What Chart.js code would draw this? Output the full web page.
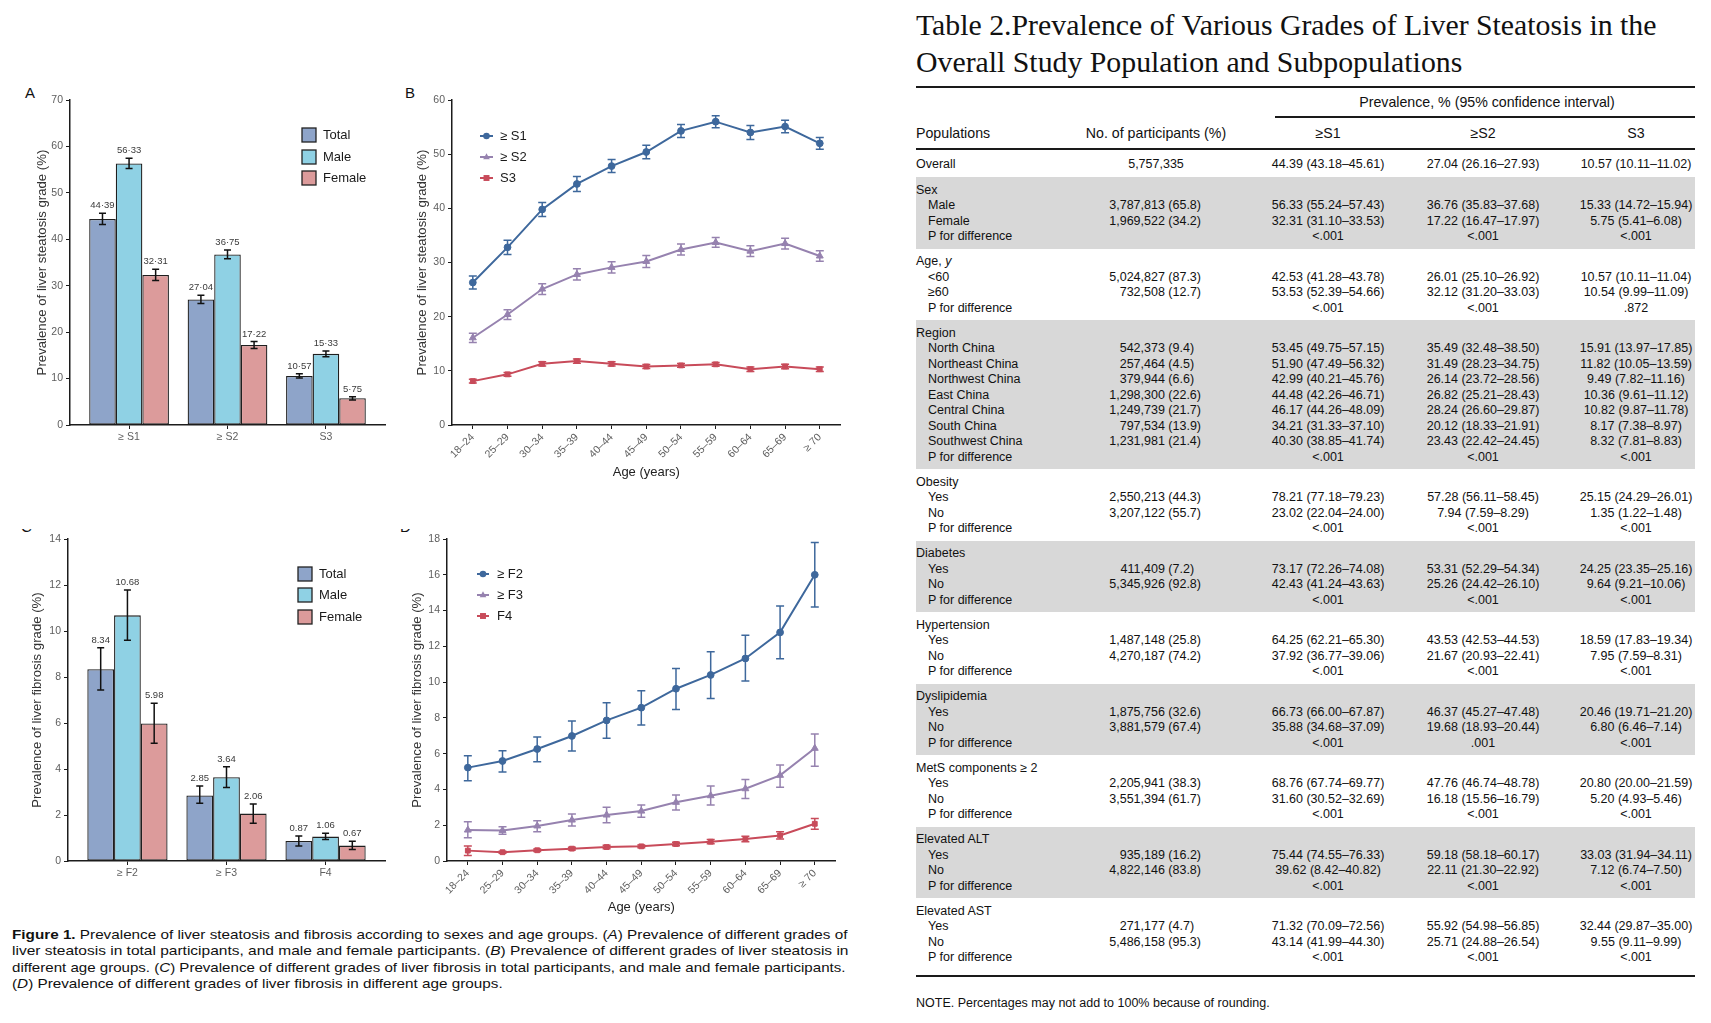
<!DOCTYPE html>
<html>
<head>
<meta charset="utf-8">
<title>Liver steatosis and fibrosis prevalence</title>
<script src="https://cdn.jsdelivr.net/npm/chart.js@4.4.1/dist/chart.umd.min.js"></script>
<style>
  html, body { margin: 0; padding: 0; background: #fff; }
  body { position: relative; width: 1711px; height: 1023px; overflow: hidden;
         font-family: "Liberation Sans", Arial, Helvetica, sans-serif; color: #111; }
  canvas { position: absolute; }
  .t { position: absolute; white-space: nowrap; font-size: 12.5px; line-height: 16px; }
  .t.h { font-size: 14.2px; }
  .rule { position: absolute; background: #1a1a1a; }
  .shade { position: absolute; background: #d8d8d8; }
  .ttl { position: absolute; left: 916px; font-family: "Liberation Serif", "Times New Roman", serif;
         font-size: 30px; line-height: 30px; white-space: nowrap; transform-origin: 0 0; color: #111; }
  .cap { position: absolute; left: 12px; font-size: 13px; line-height: 16px; white-space: nowrap;
         transform-origin: 0 0; color: #111; }
  .panel { position: absolute; font-size: 15px; line-height: 16px; color: #111; }
  .clip { position: absolute; overflow: hidden; width: 16px; height: 6px; }
  .clip span { position: absolute; top: -10px; left: 0; font-size: 15px; line-height: 16px; }
</style>
</head>
<body>

<div class="panel" style="left:25px;top:85px">A</div>
<div class="panel" style="left:405px;top:85px">B</div>
<div class="clip" style="left:21px;top:529px"><span>C</span></div>
<div class="clip" style="left:400px;top:529px"><span>D</span></div>

<canvas id="chartA" width="400" height="385" style="left:0px;top:80px"></canvas>
<canvas id="chartB" width="480" height="400" style="left:380px;top:80px"></canvas>
<canvas id="chartC" width="400" height="385" style="left:0px;top:515px"></canvas>
<canvas id="chartD" width="480" height="405" style="left:380px;top:515px"></canvas>

<div class="cap" id="cap1" style="top:927px"><b>Figure 1.</b> Prevalence of liver steatosis and fibrosis according to sexes and age groups. (<i>A</i>) Prevalence of different grades of</div>
<div class="cap" id="cap2" style="top:943px">liver steatosis in total participants, and male and female participants. (<i>B</i>) Prevalence of different grades of liver steatosis in</div>
<div class="cap" id="cap3" style="top:960px">different age groups. (<i>C</i>) Prevalence of different grades of liver fibrosis in total participants, and male and female participants.</div>
<div class="cap" id="cap4" style="top:976px">(<i>D</i>) Prevalence of different grades of liver fibrosis in different age groups.</div>

<div class="ttl" id="ttl1" style="top:10px">Table 2.Prevalence of Various Grades of Liver Steatosis in the</div>
<div class="ttl" id="ttl2" style="top:47px">Overall Study Population and Subpopulations</div>

<script>
// ---- panel A: steatosis by sex ----
const gradesA = ['≥ S1', '≥ S2', 'S3'];
const totalA = [44.39, 27.04, 10.57];
const totalA_lo = [43.18, 26.16, 10.11];
const totalA_hi = [45.61, 27.93, 11.02];
const maleA = [56.33, 36.75, 15.33];
const maleA_lo = [55.24, 35.83, 14.72];
const maleA_hi = [57.43, 37.68, 15.94];
const femaleA = [32.31, 17.22, 5.75];
const femaleA_lo = [31.10, 16.47, 5.41];
const femaleA_hi = [33.53, 17.97, 6.08];

// ---- panel B: steatosis by age ----
const ages = ['18–24', '25–29', '30–34', '35–39', '40–44', '45–49', '50–54', '55–59', '60–64', '65–69', '≥ 70'];
const s1B = [26.3, 32.8, 39.8, 44.5, 47.8, 50.4, 54.3, 56.0, 54.0, 55.1, 52.0];
const s1B_err = [1.2, 1.3, 1.3, 1.4, 1.2, 1.25, 1.2, 1.1, 1.3, 1.15, 1.1];
const s2B = [16.1, 20.4, 25.1, 27.8, 29.1, 30.2, 32.4, 33.7, 32.1, 33.5, 31.2];
const s2B_err = [0.85, 0.9, 1.0, 1.05, 1.05, 1.1, 1.0, 0.9, 1.0, 1.0, 0.95];
const s3B = [8.1, 9.35, 11.3, 11.8, 11.3, 10.8, 11.0, 11.2, 10.3, 10.8, 10.3];
const s3B_err = [0.35, 0.35, 0.4, 0.4, 0.4, 0.35, 0.35, 0.35, 0.4, 0.4, 0.4];

// ---- panel C: fibrosis by sex ----
const gradesC = ['≥ F2', '≥ F3', 'F4'];
const totalC = [8.34, 2.85, 0.87];
const totalC_lo = [7.43, 2.51, 0.65];
const totalC_hi = [9.27, 3.26, 1.09];
const maleC = [10.68, 3.64, 1.06];
const maleC_lo = [9.60, 3.20, 0.93];
const maleC_hi = [11.78, 4.10, 1.21];
const femaleC = [5.98, 2.06, 0.67];
const femaleC_lo = [5.12, 1.64, 0.50];
const femaleC_hi = [6.86, 2.48, 0.86];

// ---- panel D: fibrosis by age ----
const f2D = [5.22, 5.59, 6.26, 6.99, 7.86, 8.57, 9.63, 10.40, 11.32, 12.78, 16.0];
const f2D_lo = [4.48, 4.97, 5.55, 6.15, 6.86, 7.60, 8.47, 9.09, 10.06, 11.31, 14.2];
const f2D_hi = [5.88, 6.16, 6.93, 7.83, 8.85, 9.52, 10.76, 11.70, 12.62, 14.25, 17.8];
const f3D = [1.73, 1.71, 1.96, 2.29, 2.57, 2.79, 3.28, 3.65, 4.04, 4.79, 6.3];
const f3D_lo = [1.30, 1.49, 1.64, 1.96, 2.14, 2.44, 2.85, 3.13, 3.50, 4.12, 5.3];
const f3D_hi = [2.20, 1.92, 2.25, 2.63, 3.00, 3.13, 3.69, 4.19, 4.56, 5.37, 7.1];
const f4D = [0.58, 0.49, 0.60, 0.69, 0.78, 0.82, 0.95, 1.08, 1.23, 1.43, 2.08];
const f4D_lo = [0.31, 0.43, 0.53, 0.61, 0.68, 0.74, 0.85, 0.96, 1.08, 1.23, 1.78];
const f4D_hi = [0.84, 0.55, 0.67, 0.77, 0.88, 0.90, 1.05, 1.20, 1.38, 1.63, 2.38];

// ---- table 2 ----
const tblLabel = [
  'Overall',
  'Sex', 'Male', 'Female', 'P for difference',
  'Age, y', '<60', '≥60', 'P for difference',
  'Region', 'North China', 'Northeast China', 'Northwest China', 'East China', 'Central China', 'South China', 'Southwest China', 'P for difference',
  'Obesity', 'Yes', 'No', 'P for difference',
  'Diabetes', 'Yes', 'No', 'P for difference',
  'Hypertension', 'Yes', 'No', 'P for difference',
  'Dyslipidemia', 'Yes', 'No', 'P for difference',
  'MetS components ≥ 2', 'Yes', 'No', 'P for difference',
  'Elevated ALT', 'Yes', 'No', 'P for difference',
  'Elevated AST', 'Yes', 'No', 'P for difference'
];
const tblN = [
  '5,757,335',
  '', '3,787,813 (65.8)', '1,969,522 (34.2)', '',
  '', '5,024,827 (87.3)', '732,508 (12.7)', '',
  '', '542,373 (9.4)', '257,464 (4.5)', '379,944 (6.6)', '1,298,300 (22.6)', '1,249,739 (21.7)', '797,534 (13.9)', '1,231,981 (21.4)', '',
  '', '2,550,213 (44.3)', '3,207,122 (55.7)', '',
  '', '411,409 (7.2)', '5,345,926 (92.8)', '',
  '', '1,487,148 (25.8)', '4,270,187 (74.2)', '',
  '', '1,875,756 (32.6)', '3,881,579 (67.4)', '',
  '', '2,205,941 (38.3)', '3,551,394 (61.7)', '',
  '', '935,189 (16.2)', '4,822,146 (83.8)', '',
  '', '271,177 (4.7)', '5,486,158 (95.3)', ''
];
const tblS1 = [
  '44.39 (43.18–45.61)',
  '', '56.33 (55.24–57.43)', '32.31 (31.10–33.53)', '<.001',
  '', '42.53 (41.28–43.78)', '53.53 (52.39–54.66)', '<.001',
  '', '53.45 (49.75–57.15)', '51.90 (47.49–56.32)', '42.99 (40.21–45.76)', '44.48 (42.26–46.71)', '46.17 (44.26–48.09)', '34.21 (31.33–37.10)', '40.30 (38.85–41.74)', '<.001',
  '', '78.21 (77.18–79.23)', '23.02 (22.04–24.00)', '<.001',
  '', '73.17 (72.26–74.08)', '42.43 (41.24–43.63)', '<.001',
  '', '64.25 (62.21–65.30)', '37.92 (36.77–39.06)', '<.001',
  '', '66.73 (66.00–67.87)', '35.88 (34.68–37.09)', '<.001',
  '', '68.76 (67.74–69.77)', '31.60 (30.52–32.69)', '<.001',
  '', '75.44 (74.55–76.33)', '39.62 (8.42–40.82)', '<.001',
  '', '71.32 (70.09–72.56)', '43.14 (41.99–44.30)', '<.001'
];
const tblS2 = [
  '27.04 (26.16–27.93)',
  '', '36.76 (35.83–37.68)', '17.22 (16.47–17.97)', '<.001',
  '', '26.01 (25.10–26.92)', '32.12 (31.20–33.03)', '<.001',
  '', '35.49 (32.48–38.50)', '31.49 (28.23–34.75)', '26.14 (23.72–28.56)', '26.82 (25.21–28.43)', '28.24 (26.60–29.87)', '20.12 (18.33–21.91)', '23.43 (22.42–24.45)', '<.001',
  '', '57.28 (56.11–58.45)', '7.94 (7.59–8.29)', '<.001',
  '', '53.31 (52.29–54.34)', '25.26 (24.42–26.10)', '<.001',
  '', '43.53 (42.53–44.53)', '21.67 (20.93–22.41)', '<.001',
  '', '46.37 (45.27–47.48)', '19.68 (18.93–20.44)', '.001',
  '', '47.76 (46.74–48.78)', '16.18 (15.56–16.79)', '<.001',
  '', '59.18 (58.18–60.17)', '22.11 (21.30–22.92)', '<.001',
  '', '55.92 (54.98–56.85)', '25.71 (24.88–26.54)', '<.001'
];
const tblS3 = [
  '10.57 (10.11–11.02)',
  '', '15.33 (14.72–15.94)', '5.75 (5.41–6.08)', '<.001',
  '', '10.57 (10.11–11.04)', '10.54 (9.99–11.09)', '.872',
  '', '15.91 (13.97–17.85)', '11.82 (10.05–13.59)', '9.49 (7.82–11.16)', '10.36 (9.61–11.12)', '10.82 (9.87–11.78)', '8.17 (7.38–8.97)', '8.32 (7.81–8.83)', '<.001',
  '', '25.15 (24.29–26.01)', '1.35 (1.22–1.48)', '<.001',
  '', '24.25 (23.35–25.16)', '9.64 (9.21–10.06)', '<.001',
  '', '18.59 (17.83–19.34)', '7.95 (7.59–8.31)', '<.001',
  '', '20.46 (19.71–21.20)', '6.80 (6.46–7.14)', '<.001',
  '', '20.80 (20.00–21.59)', '5.20 (4.93–5.46)', '<.001',
  '', '33.03 (31.94–34.11)', '7.12 (6.74–7.50)', '<.001',
  '', '32.44 (29.87–35.00)', '9.55 (9.11–9.99)', '<.001'
];

// colours
const C_TOTAL = '#8ea4c9', C_MALE = '#8fd1e4', C_FEMALE = '#dc9b9b';
const C_L1 = '#3e689c', C_L2 = '#9682af', C_L3 = '#c84b5a';
const TICK_COL = '#5e5e5e', AXIS_COL = '#1c1c1c';

Chart.defaults.font.family = '"Liberation Sans", Arial, Helvetica, sans-serif';
Chart.defaults.animation = false;

// error bars, drawn through the y scale
const errorBars = {
  id: 'errorBars',
  afterDatasetsDraw(chart, args, opts) {
    const ctx = chart.ctx, ys = chart.scales.y;
    chart.data.datasets.forEach((ds, i) => {
      if (!ds.errLo) return;
      const meta = chart.getDatasetMeta(i);
      ctx.save();
      ctx.strokeStyle = opts.color || ds.borderColor;
      ctx.lineWidth = opts.width;
      const c = opts.cap / 2;
      meta.data.forEach((el, j) => {
        const x = el.x;
        const yl = ys.getPixelForValue(ds.errLo[j]);
        const yh = ys.getPixelForValue(ds.errHi[j]);
        ctx.beginPath();
        ctx.moveTo(x, yl); ctx.lineTo(x, yh);
        ctx.moveTo(x - c, yl); ctx.lineTo(x + c, yl);
        ctx.moveTo(x - c, yh); ctx.lineTo(x + c, yh);
        ctx.stroke();
      });
      ctx.restore();
    });
  }
};

// value labels above the error bars
const barLabels = {
  id: 'barLabels',
  afterDatasetsDraw(chart, args, opts) {
    const ctx = chart.ctx, ys = chart.scales.y;
    ctx.save();
    ctx.font = '9.5px "Liberation Sans", Arial, sans-serif';
    ctx.fillStyle = '#3a3a3a';
    ctx.textAlign = 'center';
    ctx.textBaseline = 'middle';
    chart.data.datasets.forEach((ds, i) => {
      const meta = chart.getDatasetMeta(i);
      meta.data.forEach((el, j) => {
        const txt = ds.data[j].y.toFixed(2).replace('.', opts.sep);
        ctx.fillText(txt, el.x, ys.getPixelForValue(ds.errHi[j]) - 7.5);
      });
    });
    ctx.restore();
  }
};

function marker(ctx, style, x, y, r) {
  ctx.beginPath();
  if (style === 'triangle') {
    ctx.moveTo(x, y - r * 1.15);
    ctx.lineTo(x + r, y + r * 0.7);
    ctx.lineTo(x - r, y + r * 0.7);
    ctx.closePath();
  } else if (style === 'rect') {
    ctx.rect(x - r * 0.9, y - r * 0.9, r * 1.8, r * 1.8);
  } else {
    ctx.arc(x, y, r, 0, Math.PI * 2);
  }
  ctx.fill();
}

// legend placed inside the panel, like the original
const cornerLegend = {
  id: 'cornerLegend',
  afterDraw(chart, args, o) {
    const ctx = chart.ctx, a = chart.chartArea;
    ctx.save();
    ctx.font = '13px "Liberation Sans", Arial, sans-serif';
    ctx.textBaseline = 'middle';
    chart.data.datasets.forEach((ds, i) => {
      const y = a.top + o.rows[i];
      const x = a.left + o.x;
      if (o.kind === 'box') {
        ctx.fillStyle = ds.backgroundColor;
        ctx.fillRect(x, y - 7, 14, 14);
        ctx.strokeStyle = '#222';
        ctx.lineWidth = 1.3;
        ctx.strokeRect(x, y - 7, 14, 14);
      } else {
        ctx.strokeStyle = ds.borderColor;
        ctx.lineWidth = 2;
        ctx.beginPath();
        ctx.moveTo(x, y); ctx.lineTo(x + o.len, y);
        ctx.stroke();
        ctx.fillStyle = ds.borderColor;
        marker(ctx, ds.pointStyle, x + o.len / 2, y, 3.3);
      }
      ctx.fillStyle = '#1a1a1a';
      ctx.fillText(ds.label, a.left + o.textX, y + 0.5);
    });
    ctx.restore();
  }
};

function scalesFor(p) {
  return {
    x: {
      type: 'linear',
      offset: false,
      min: -0.6,
      max: p.cats.length - 0.4,
      afterBuildTicks: s => { s.ticks = p.cats.map((_, i) => ({ value: i })); },
      afterFit: s => { s.height = p.xh; },
      ticks: {
        callback: v => p.cats[v],
        color: TICK_COL, font: { size: 10.5 }, padding: 2,
        autoSkip: false, minRotation: p.rot, maxRotation: p.rot
      },
      grid: { display: true, offset: false, drawOnChartArea: false, tickLength: 4, color: AXIS_COL, lineWidth: 1 },
      border: { display: true, color: AXIS_COL, width: 1.5 },
      title: p.xTitle
        ? { display: true, text: p.xTitle, color: '#222', font: { size: 13 }, padding: { top: 0, bottom: p.xtPad } }
        : { display: false }
    },
    y: {
      min: 0,
      max: p.ymax,
      afterFit: s => { s.width = p.yw; },
      ticks: { stepSize: p.step, color: TICK_COL, font: { size: 10.5 }, padding: 3 },
      grid: { display: true, drawOnChartArea: false, tickLength: 4, color: AXIS_COL, lineWidth: 1 },
      border: { display: true, color: AXIS_COL, width: 1.5 },
      title: { display: true, text: p.yTitle, color: '#333', font: { size: 13.2 }, padding: { top: p.ytPad, bottom: 0 } }
    }
  };
}

function barDataset(label, values, lo, hi, color) {
  return {
    label: label,
    data: values.map((v, i) => ({ x: i, y: v })),
    errLo: lo, errHi: hi,
    backgroundColor: color,
    borderColor: '#1f1f1f',
    borderWidth: 1.3,
    borderSkipped: false,
    categoryPercentage: 0.81,
    barPercentage: 1
  };
}

function lineDataset(label, values, lo, hi, color, style) {
  return {
    label: label,
    data: values.map((v, i) => ({ x: i, y: v })),
    errLo: lo, errHi: hi,
    borderColor: color,
    backgroundColor: color,
    borderWidth: 2,
    pointStyle: style,
    pointRadius: style === 'triangle' ? 4 : 3.4,
    pointBorderWidth: 1,
    tension: 0
  };
}

function noLegend() {
  return { legend: { display: false }, tooltip: { enabled: false } };
}

// A
new Chart(document.getElementById('chartA'), {
  type: 'bar',
  data: {
    datasets: [
      barDataset('Total', totalA, totalA_lo, totalA_hi, C_TOTAL),
      barDataset('Male', maleA, maleA_lo, maleA_hi, C_MALE),
      barDataset('Female', femaleA, femaleA_lo, femaleA_hi, C_FEMALE)
    ]
  },
  options: {
    responsive: false,
    layout: { padding: { left: 0, top: 20, right: 15, bottom: 0 } },
    scales: scalesFor({ cats: gradesA, xh: 40, rot: 0, ymax: 70, step: 10, yw: 70, ytPad: 34.1,
                        yTitle: 'Prevalence of liver steatosis grade (%)' }),
    plugins: Object.assign(noLegend(), {
      errorBars: { width: 1.5, cap: 7, color: '#111' },
      barLabels: { sep: '·' },
      cornerLegend: { kind: 'box', x: 232, textX: 253, rows: [35, 57, 78] }
    })
  },
  plugins: [errorBars, barLabels, cornerLegend]
});

// B
new Chart(document.getElementById('chartB'), {
  type: 'line',
  data: {
    datasets: [
      lineDataset('≥ S1', s1B, s1B.map((v, i) => v - s1B_err[i]), s1B.map((v, i) => v + s1B_err[i]), C_L1, 'circle'),
      lineDataset('≥ S2', s2B, s2B.map((v, i) => v - s2B_err[i]), s2B.map((v, i) => v + s2B_err[i]), C_L2, 'triangle'),
      lineDataset('S3', s3B, s3B.map((v, i) => v - s3B_err[i]), s3B.map((v, i) => v + s3B_err[i]), C_L3, 'rect')
    ]
  },
  options: {
    responsive: false,
    layout: { padding: { left: 0, top: 20, right: 19.4, bottom: 0 } },
    scales: scalesFor({ cats: ages, xh: 55, rot: 45, ymax: 60, step: 10, yw: 72, ytPad: 34.1,
                        yTitle: 'Prevalence of liver steatosis grade (%)', xTitle: 'Age (years)', xtPad: 0.2 }),
    plugins: Object.assign(noLegend(), {
      errorBars: { width: 1.5, cap: 8 },
      cornerLegend: { kind: 'line', x: 28, len: 13, textX: 48, rows: [36, 57, 78] }
    })
  },
  plugins: [errorBars, cornerLegend]
});

// C
new Chart(document.getElementById('chartC'), {
  type: 'bar',
  data: {
    datasets: [
      barDataset('Total', totalC, totalC_lo, totalC_hi, C_TOTAL),
      barDataset('Male', maleC, maleC_lo, maleC_hi, C_MALE),
      barDataset('Female', femaleC, femaleC_lo, femaleC_hi, C_FEMALE)
    ]
  },
  options: {
    responsive: false,
    layout: { padding: { left: 0, top: 24, right: 15, bottom: 0 } },
    scales: scalesFor({ cats: gradesC, xh: 39, rot: 0, ymax: 14, step: 2, yw: 68, ytPad: 29.1,
                        yTitle: 'Prevalence of liver fibrosis grade (%)' }),
    plugins: Object.assign(noLegend(), {
      errorBars: { width: 1.5, cap: 7, color: '#111' },
      barLabels: { sep: '.' },
      cornerLegend: { kind: 'box', x: 230, textX: 251, rows: [35, 56, 78] }
    })
  },
  plugins: [errorBars, barLabels, cornerLegend]
});

// D
new Chart(document.getElementById('chartD'), {
  type: 'line',
  data: {
    datasets: [
      lineDataset('≥ F2', f2D, f2D_lo, f2D_hi, C_L1, 'circle'),
      lineDataset('≥ F3', f3D, f3D_lo, f3D_hi, C_L2, 'triangle'),
      lineDataset('F4', f4D, f4D_lo, f4D_hi, C_L3, 'rect')
    ]
  },
  options: {
    responsive: false,
    layout: { padding: { left: 0, top: 24, right: 24.4, bottom: 0 } },
    scales: scalesFor({ cats: ages, xh: 59, rot: 45, ymax: 18, step: 2, yw: 67, ytPad: 29.1,
                        yTitle: 'Prevalence of liver fibrosis grade (%)', xTitle: 'Age (years)', xtPad: 5.2 }),
    plugins: Object.assign(noLegend(), {
      errorBars: { width: 1.5, cap: 8 },
      cornerLegend: { kind: 'line', x: 30, len: 12, textX: 50, rows: [35, 56, 77] }
    })
  },
  plugins: [errorBars, cornerLegend]
});

// ---- table drawing ----
function put(text, x, yc, align, html, cls) {
  const d = document.createElement('div');
  d.className = 't' + (cls ? ' ' + cls : '');
  if (html) d.innerHTML = text; else d.textContent = text;
  d.style.top = (yc - 8) + 'px';
  if (align === 'left') {
    d.style.left = x + 'px';
  } else if (align === 'right') {
    d.style.right = (1711 - x) + 'px';
  } else {
    d.style.left = (x - 150) + 'px';
    d.style.width = '300px';
    d.style.textAlign = 'center';
  }
  document.body.appendChild(d);
}
function rect(cls, x, y, w, h) {
  const d = document.createElement('div');
  d.className = cls;
  d.style.left = x + 'px'; d.style.top = y + 'px';
  d.style.width = w + 'px'; d.style.height = h + 'px';
  document.body.appendChild(d);
}

const TL = 916, TR = 1695;
const X_N = 1201, X_NC = 1156, X_S1 = 1328, X_S2 = 1483, X_S3 = 1636;
const ROW = 15.5, PAD = 4.75;

// find the row blocks (each starts with a header row)
const blocks = [];
for (let i = 1; i < tblLabel.length; i++) {
  if (tblN[i] === '' && tblS1[i] === '') blocks.push({ start: i, count: 0 });
  blocks[blocks.length - 1].count++;
}
let cur = 177;
blocks.forEach((b, k) => {
  const h = b.count * ROW + 2 * PAD;
  if (k % 2 === 0) rect('shade', TL, cur, TR - TL, h);
  b.top = cur;
  cur += h;
});

rect('rule', TL, 86, TR - TL, 2);
rect('rule', 1275, 116, TR - 1275, 1.5);
rect('rule', TL, 148, TR - TL, 2);
rect('rule', TL, 975, TR - TL, 2);

put('Prevalence, % (95% confidence interval)', 1487, 102, 'center', false, 'h');
put('Populations', TL, 133, 'left', false, 'h');
put('No. of participants (%)', X_NC, 133, 'center', false, 'h');
put('≥S1', X_S1, 133, 'center', false, 'h');
put('≥S2', X_S2, 133, 'center', false, 'h');
put('S3', X_S3, 133, 'center', false, 'h');

function drawRow(i, yc) {
  const header = tblN[i] === '' && tblS1[i] === '';
  if (tblLabel[i] === 'Age, y') put('Age, <i>y</i>', TL, yc, 'left', true);
  else put(tblLabel[i], (header || i === 0) ? TL : TL + 12, yc, 'left');
  if (tblN[i]) {
    if (tblN[i].indexOf('(') < 0) put(tblN[i], X_NC, yc, 'center');
    else put(tblN[i] + (/\(\d\./.test(tblN[i]) ? '\u2007' : ''), X_N, yc, 'right');
  }
  if (tblS1[i]) put(tblS1[i], X_S1, yc, 'center');
  if (tblS2[i]) put(tblS2[i], X_S2, yc, 'center');
  if (tblS3[i]) put(tblS3[i], X_S3, yc, 'center');
}
drawRow(0, 164);
blocks.forEach(b => {
  for (let r = 0; r < b.count; r++) drawRow(b.start + r, b.top + PAD + ROW / 2 + r * ROW);
});
put('NOTE. Percentages may not add to 100% because of rounding.', TL, 1003, 'left');

// squeeze the serif title and caption lines to the widths they take in the original
function squeeze(id, w) {
  const el = document.getElementById(id);
  const k = w / el.offsetWidth;
  el.style.transform = 'scaleX(' + k + ')';
  return k;
}
const kt = squeeze('ttl1', 740);
document.getElementById('ttl2').style.transform = 'scaleX(' + kt + ')';
const kc = squeeze('cap1', 836);
squeeze('cap2', 836);
squeeze('cap3', 834);
document.getElementById('cap4').style.transform = 'scaleX(' + kc + ')';
</script>
</body>
</html>
